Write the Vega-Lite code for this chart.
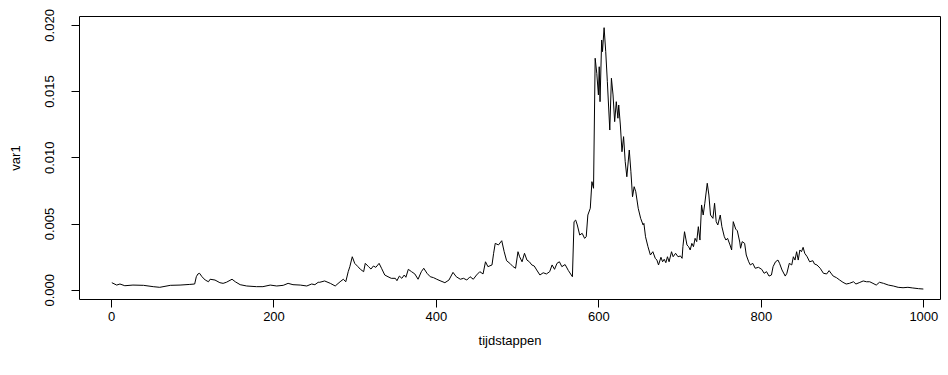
{
  "$schema": "https://vega.github.io/schema/vega-lite/v6.json",
  "width": 861,
  "height": 283,
  "autosize": "none",
  "padding": {"left": 79, "top": 16, "right": 8, "bottom": 76},
  "background": "white",
  "config": {
    "view": {"stroke": "black", "strokeWidth": 1},
    "axis": {
      "domain": false,
      "grid": false,
      "tickColor": "black",
      "tickSize": 8,
      "labelColor": "black",
      "labelFont": "Liberation Sans",
      "labelFontSize": 13,
      "titleFont": "Liberation Sans",
      "titleFontSize": 13,
      "titleFontWeight": "normal",
      "titleColor": "black"
    }
  },
  "data": {
    "values": [
      {"t":1,"v":0.00053},{"t":7,"v":0.00035},{"t":11,"v":0.00043},{"t":17,"v":0.0003},{"t":27,"v":0.00035},{"t":40,"v":0.00033},{"t":52,"v":0.00023},{"t":60,"v":0.00018},{"t":73,"v":0.00033},{"t":85,"v":0.00035},{"t":97,"v":0.0004},{"t":103,"v":0.00043},{"t":105,"v":0.00098},{"t":107,"v":0.00119},{"t":109,"v":0.00124},{"t":112,"v":0.00098},{"t":116,"v":0.00073},{"t":120,"v":0.0006},{"t":122,"v":0.00079},{"t":128,"v":0.00073},{"t":134,"v":0.00053},{"t":138,"v":0.00048},{"t":142,"v":0.00056},{"t":149,"v":0.00079},{"t":153,"v":0.0006},{"t":159,"v":0.00038},{"t":167,"v":0.00028},{"t":179,"v":0.00023},{"t":187,"v":0.00023},{"t":196,"v":0.00035},{"t":204,"v":0.00028},{"t":212,"v":0.00033},{"t":218,"v":0.00048},{"t":224,"v":0.00038},{"t":233,"v":0.00035},{"t":241,"v":0.00028},{"t":247,"v":0.00043},{"t":251,"v":0.00038},{"t":255,"v":0.00056},
      {"t":257,"v":0.00056},{"t":263,"v":0.00066},{"t":270,"v":0.00048},{"t":276,"v":0.00028},{"t":282,"v":0.0006},{"t":286,"v":0.00079},{"t":289,"v":0.0006},{"t":292,"v":0.00136},{"t":294,"v":0.00174},{"t":297,"v":0.00249},{"t":300,"v":0.00199},{"t":304,"v":0.00174},{"t":307,"v":0.00154},{"t":311,"v":0.00136},{"t":313,"v":0.00199},{"t":317,"v":0.00174},{"t":320,"v":0.00156},{"t":323,"v":0.00179},{"t":326,"v":0.00169},{"t":330,"v":0.00199},{"t":333,"v":0.00162},{"t":337,"v":0.00111},{"t":341,"v":0.00098},{"t":345,"v":0.00086},{"t":350,"v":0.00086},{"t":352,"v":0.00068},{"t":355,"v":0.00103},{"t":358,"v":0.00086},{"t":361,"v":0.00111},{"t":363,"v":0.00094},{"t":366,"v":0.00154},{"t":370,"v":0.00136},{"t":374,"v":0.00119},{"t":378,"v":0.00079},{"t":382,"v":0.00136},{"t":385,"v":0.00162},{"t":389,"v":0.00124},{"t":393,"v":0.00098},{"t":397,"v":0.00091},{"t":401,"v":0.00079},{"t":405,"v":0.00068},{"t":411,"v":0.00053},{"t":416,"v":0.00073},{"t":421,"v":0.00131},{"t":425,"v":0.00098},{"t":430,"v":0.00079},{"t":434,"v":0.00086},{"t":438,"v":0.00073},{"t":442,"v":0.00098},{"t":446,"v":0.00079},{"t":450,"v":0.00111},{"t":454,"v":0.00136},{"t":458,"v":0.00119},{"t":461,"v":0.00211},{"t":464,"v":0.00174},{"t":469,"v":0.00187},{"t":471,"v":0.00275},{"t":473,"v":0.0035},{"t":477,"v":0.00338},{"t":481,"v":0.0037},{"t":484,"v":0.00287},{"t":487,"v":0.00219},{"t":491,"v":0.00199},{"t":495,"v":0.00174},{"t":498,"v":0.00162},{"t":501,"v":0.00287},{"t":503,"v":0.00249},{"t":506,"v":0.00211},{"t":509,"v":0.00275},{"t":512,"v":0.00224},{"t":515,"v":0.00211},{"t":518,"v":0.00187},{"t":521,"v":0.00179},{"t":524,"v":0.00149},{"t":528,"v":0.00111},{"t":532,"v":0.00128},{"t":536,"v":0.00119},{"t":540,"v":0.00136},{"t":543,"v":0.00187},{"t":546,"v":0.00154},{"t":549,"v":0.00199},{"t":552,"v":0.00211},{"t":555,"v":0.00174},
      {"t":559,"v":0.0019},{"t":563,"v":0.00145},{"t":568,"v":0.00098},{"t":570,"v":0.00514},{"t":572,"v":0.00526},{"t":574,"v":0.00489},{"t":577,"v":0.00413},{"t":580,"v":0.00426},{"t":583,"v":0.00388},{"t":585,"v":0.004},{"t":587,"v":0.00564},{"t":590,"v":0.00615},{"t":592,"v":0.00816},{"t":594,"v":0.00766},{"t":596,"v":0.01748},{"t":598,"v":0.01634},{"t":600,"v":0.01471},{"t":601,"v":0.01684},{"t":602,"v":0.0142},{"t":604,"v":0.01886},{"t":605,"v":0.01798},{"t":607,"v":0.01979},{"t":609,"v":0.01798},{"t":611,"v":0.01571},{"t":614,"v":0.01206},{"t":616,"v":0.01597},{"t":618,"v":0.01471},{"t":620,"v":0.01269},{"t":622,"v":0.0142},{"t":624,"v":0.01295},{"t":625,"v":0.01395},{"t":627,"v":0.01244},{"t":629,"v":0.01042},{"t":631,"v":0.01156},{"t":633,"v":0.00967},{"t":635,"v":0.00853},{"t":638,"v":0.01055},{"t":640,"v":0.00891},{"t":642,"v":0.00702},{"t":644,"v":0.00778},{"t":646,"v":0.0074},{"t":649,"v":0.00615},{"t":652,"v":0.00539},{"t":655,"v":0.00489},
      {"t":656,"v":0.00501},{"t":658,"v":0.004},{"t":661,"v":0.00325},{"t":664,"v":0.00262},{"t":667,"v":0.00287},{"t":670,"v":0.00237},{"t":672,"v":0.00224},{"t":674,"v":0.00187},{"t":677,"v":0.00245},{"t":679,"v":0.00211},{"t":681,"v":0.0023},{"t":683,"v":0.00204},{"t":685,"v":0.00249},{"t":687,"v":0.00211},{"t":690,"v":0.00287},{"t":692,"v":0.00249},{"t":695,"v":0.00275},{"t":698,"v":0.00249},{"t":701,"v":0.00255},{"t":703,"v":0.00237},{"t":704,"v":0.00325},{"t":706,"v":0.00438},{"t":709,"v":0.00338},{"t":711,"v":0.00325},{"t":713,"v":0.003},{"t":715,"v":0.0035},{"t":717,"v":0.00325},{"t":719,"v":0.00388},{"t":721,"v":0.00363},{"t":723,"v":0.00476},{"t":725,"v":0.00375},{"t":727,"v":0.0064},{"t":729,"v":0.00564},{"t":731,"v":0.00653},{"t":734,"v":0.00804},{"t":736,"v":0.00715},{"t":738,"v":0.00564},{"t":741,"v":0.00539},{"t":743,"v":0.00653},{"t":745,"v":0.00514},{"t":747,"v":0.00489},{"t":750,"v":0.00564},{"t":752,"v":0.00476},{"t":755,"v":0.004},{"t":757,"v":0.00375},{"t":759,"v":0.00388},{"t":762,"v":0.00338},{"t":764,"v":0.003},{"t":766,"v":0.00514},{"t":769,"v":0.00458},{"t":771,"v":0.00445},{"t":774,"v":0.0036},
      {"t":775,"v":0.00313},{"t":777,"v":0.00363},{"t":780,"v":0.0035},{"t":782,"v":0.00262},{"t":785,"v":0.00211},{"t":787,"v":0.00187},{"t":790,"v":0.00199},{"t":793,"v":0.00162},{"t":797,"v":0.00169},{"t":801,"v":0.00154},{"t":804,"v":0.00124},{"t":807,"v":0.00136},{"t":810,"v":0.00103},{"t":813,"v":0.00111},{"t":815,"v":0.00174},{"t":818,"v":0.00211},{"t":821,"v":0.00224},{"t":823,"v":0.00199},{"t":826,"v":0.00149},{"t":830,"v":0.00103},{"t":832,"v":0.00124},{"t":835,"v":0.00199},{"t":838,"v":0.00187},{"t":840,"v":0.00249},{"t":842,"v":0.00224},{"t":844,"v":0.00287},{"t":846,"v":0.00224},{"t":848,"v":0.003},{"t":850,"v":0.00287},{"t":852,"v":0.0032},{"t":854,"v":0.00275},{"t":857,"v":0.00249},{"t":860,"v":0.00211},{"t":864,"v":0.00219},{"t":866,"v":0.00194},{"t":869,"v":0.00187},{"t":873,"v":0.00162},{"t":877,"v":0.00124},{"t":881,"v":0.00119},{"t":884,"v":0.00144},
      {"t":887,"v":0.00119},{"t":889,"v":0.00103},{"t":893,"v":0.00091},{"t":897,"v":0.00073},{"t":901,"v":0.00056},{"t":905,"v":0.00043},{"t":909,"v":0.00048},{"t":914,"v":0.0006},{"t":917,"v":0.00043},{"t":921,"v":0.00053},{"t":926,"v":0.00066},{"t":930,"v":0.0006},{"t":934,"v":0.0006},{"t":938,"v":0.00048},{"t":942,"v":0.00035},{"t":946,"v":0.00056},{"t":951,"v":0.00048},{"t":957,"v":0.00035},{"t":963,"v":0.00028},{"t":969,"v":0.00018},{"t":975,"v":0.00015},{"t":981,"v":0.00018},{"t":987,"v":0.00013},{"t":994,"v":0.00008},{"t":1000,"v":0.00005}
    ]
  },
  "mark": {"type": "line", "color": "black", "strokeWidth": 1, "interpolate": "linear"},
  "encoding": {
    "x": {
      "field": "t",
      "type": "quantitative",
      "scale": {"domain": [-39.4, 1020.5], "nice": false, "zero": false},
      "axis": {
        "title": "tijdstappen",
        "values": [0, 200, 400, 600, 800, 1000],
        "format": "d",
        "labelPadding": 3,
        "titleY": 41,
        "titleBaseline": "middle"
      }
    },
    "y": {
      "field": "v",
      "type": "quantitative",
      "scale": {"domain": [-0.000702, 0.020672], "nice": false, "zero": false},
      "axis": {
        "title": "var1",
        "values": [0, 0.005, 0.01, 0.015, 0.02],
        "format": ".3f",
        "labelAngle": -90,
        "labelAlign": "center",
        "labelBaseline": "bottom",
        "labelPadding": 15,
        "titleX": -64,
        "titleY": 141.5,
        "titleAlign": "center",
        "titleBaseline": "middle",
        "titleAngle": -90
      }
    }
  }
}
